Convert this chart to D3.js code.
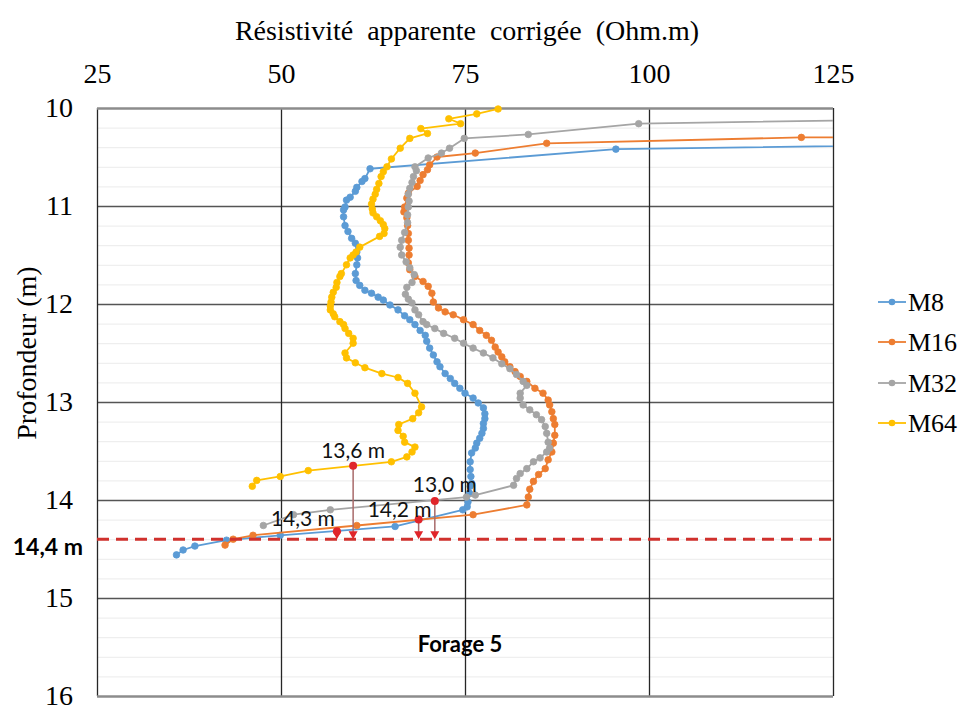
<!DOCTYPE html>
<html><head><meta charset="utf-8">
<script src="https://cdn.jsdelivr.net/npm/d3@7/dist/d3.min.js"></script>
<style>body{margin:0;background:#fff;} svg{display:block;}</style>
</head><body><svg id="chart" width="968" height="709"></svg>
<script>
// ---------- DATA ----------
const seriesNames = ["M8", "M16", "M32", "M64"];
const xTicks = [25, 50, 75, 100, 125];
const yTicks = [10, 11, 12, 13, 14, 15, 16];

const m8Res = [164, 95.5, 62.1, 61.4, 61.0, 60.3, 60.1, 59.4, 58.9, 58.7, 58.5, 58.5, 58.7, 59.1, 59.6, 60.1, 60.3, 60.4, 60.3, 60.1, 60.2, 60.7, 61.4, 62.3, 63.2, 63.9, 64.8, 65.9, 66.8, 67.5, 68.2, 68.9, 69.6, 69.8, 70.2, 70.7, 71.2, 71.6, 72.3, 73.0, 73.6, 74.3, 75.0, 76.1, 76.8, 77.5, 77.7, 77.7, 77.5, 77.5, 77.3, 77.0, 76.6, 76.4, 75.9, 75.7, 75.7, 75.8, 75.9, 75.7, 75.6, 75.4, 75.3, 74.7, 65.5, 49.9, 42.6, 38.3, 36.7, 35.8];
const m8Depth = [10.35, 10.42, 10.62, 10.72, 10.75, 10.81, 10.85, 10.91, 10.94, 11.01, 11.04, 11.11, 11.20, 11.26, 11.33, 11.38, 11.47, 11.53, 11.60, 11.69, 11.76, 11.81, 11.86, 11.89, 11.93, 11.96, 12.01, 12.06, 12.12, 12.16, 12.21, 12.27, 12.32, 12.38, 12.45, 12.52, 12.59, 12.64, 12.71, 12.76, 12.81, 12.86, 12.91, 12.96, 13.01, 13.06, 13.12, 13.17, 13.22, 13.27, 13.32, 13.37, 13.42, 13.47, 13.52, 13.61, 13.69, 13.76, 13.83, 13.86, 13.93, 14.02, 14.07, 14.10, 14.27, 14.36, 14.41, 14.47, 14.51, 14.56];

const m16Res = [180, 120.7, 86.1, 76.4, 71.2, 70.2, 69.9, 69.3, 68.9, 68.5, 67.3, 67.1, 66.8, 66.7, 67.1, 67.2, 67.3, 67.3, 67.4, 67.4, 67.3, 67.5, 68.2, 69.3, 70.0, 70.5, 70.7, 71.4, 72.3, 73.4, 74.8, 76.1, 77.0, 77.9, 78.6, 79.1, 79.5, 80.0, 80.4, 81.1, 81.8, 82.5, 83.4, 84.5, 85.6, 86.3, 86.5, 86.8, 87.0, 87.2, 87.2, 87.0, 86.8, 86.3, 85.9, 85.0, 84.3, 83.8, 83.6, 83.4, 76.1, 60.3, 46.2, 43.5, 42.4];
const m16Depth = [10.29, 10.30, 10.36, 10.46, 10.50, 10.58, 10.63, 10.68, 10.74, 10.80, 10.87, 10.92, 11.01, 11.06, 11.12, 11.20, 11.28, 11.35, 11.43, 11.50, 11.58, 11.65, 11.72, 11.77, 11.82, 11.89, 11.98, 12.04, 12.08, 12.11, 12.16, 12.21, 12.27, 12.32, 12.37, 12.44, 12.49, 12.54, 12.59, 12.64, 12.69, 12.74, 12.79, 12.86, 12.91, 12.98, 13.03, 13.10, 13.17, 13.23, 13.34, 13.42, 13.51, 13.59, 13.68, 13.74, 13.81, 13.89, 13.97, 14.05, 14.15, 14.26, 14.36, 14.40, 14.46];

const m32Res = [140, 98.6, 83.6, 74.9, 72.9, 71.8, 70.0, 68.2, 68.4, 68.0, 67.8, 67.5, 67.3, 67.4, 67.3, 67.2, 67.2, 66.8, 66.4, 66.2, 66.4, 67.0, 67.5, 68.1, 67.8, 67.1, 66.9, 67.3, 67.8, 68.2, 68.7, 69.3, 69.8, 70.9, 72.1, 73.6, 74.8, 76.1, 77.5, 78.8, 80.0, 81.1, 82.0, 82.9, 83.4, 82.5, 82.5, 82.9, 83.8, 84.7, 85.4, 85.9, 86.1, 86.3, 86.5, 86.1, 85.2, 84.3, 83.4, 82.5, 82.0, 81.6, 76.4, 75.2, 56.7, 51.7, 47.6];
const m32Depth = [10.11, 10.16, 10.27, 10.31, 10.41, 10.46, 10.51, 10.60, 10.64, 10.70, 10.76, 10.82, 10.88, 10.95, 11.01, 11.09, 11.17, 11.27, 11.35, 11.42, 11.50, 11.57, 11.63, 11.70, 11.78, 11.83, 11.90, 11.95, 11.99, 12.06, 12.11, 12.18, 12.21, 12.25, 12.30, 12.35, 12.40, 12.45, 12.50, 12.55, 12.61, 12.66, 12.72, 12.79, 12.83, 12.91, 12.96, 13.03, 13.08, 13.13, 13.18, 13.25, 13.32, 13.41, 13.47, 13.51, 13.57, 13.61, 13.68, 13.73, 13.78, 13.85, 13.95, 13.97, 14.10, 14.15, 14.26];

const m64Res = [79.5, 76.6, 72.8, 74.4, 69.0, 69.9, 67.5, 66.2, 65.0, 64.4, 63.9, 63.6, 63.3, 63.0, 62.8, 62.5, 62.3, 62.4, 62.5, 63.0, 63.5, 63.9, 64.1, 64.0, 63.4, 60.7, 60.2, 59.8, 59.4, 58.9, 58.2, 58.0, 57.6, 57.5, 57.1, 56.9, 56.8, 56.7, 56.7, 57.1, 57.3, 58.0, 58.5, 58.7, 59.2, 59.8, 59.8, 58.7, 58.9, 60.1, 61.4, 63.7, 65.9, 67.2, 68.2, 69.1, 68.7, 67.9, 66.0, 65.9, 66.6, 66.8, 68.2, 67.8, 67.1, 65.0, 53.7, 49.9, 46.7, 46.1];
const m64Depth = [10.01, 10.06, 10.11, 10.16, 10.21, 10.26, 10.31, 10.41, 10.52, 10.60, 10.65, 10.70, 10.77, 10.83, 10.88, 10.93, 10.98, 11.03, 11.07, 11.11, 11.15, 11.19, 11.23, 11.28, 11.31, 11.42, 11.47, 11.50, 11.53, 11.60, 11.69, 11.72, 11.78, 11.83, 11.88, 11.93, 11.98, 12.02, 12.06, 12.10, 12.13, 12.18, 12.21, 12.25, 12.30, 12.35, 12.40, 12.50, 12.55, 12.60, 12.65, 12.71, 12.75, 12.81, 12.91, 13.05, 13.11, 13.17, 13.23, 13.29, 13.35, 13.41, 13.46, 13.51, 13.56, 13.61, 13.70, 13.76, 13.80, 13.86];

// annotated transition points
const annotLabels = ["13,6 m", "13,0 m", "14,2 m", "14,3 m"];
const annotRes = [59.8, 70.9, 68.7, 57.6];
const annotDepth = [13.65, 14.01, 14.20, 14.32];
const limitDepth = 14.4;
const limitLabel = "14,4 m";
const boreLabel = "Forage 5";
const xTitle = "Résistivité apparente corrigée (Ohm.m)";
const yTitle = "Profondeur (m)";

// ---------- LAYOUT / STYLE ----------
const colors = ["#5b9bd5", "#ed7d31", "#a5a5a5", "#ffc000"];
const annotDx = [0, 10, -19, -34];
const annotDy = [-8, -9, -3, -5];
const W = 968, H = 709;
const P = {left: 97, right: 833, top: 108, bottom: 696};
const SERIF = '"Liberation Serif", "Times New Roman", serif';
const SANS = '"Lato", "Open Sans", "Liberation Sans", sans-serif';

const svg = d3.select("#chart");
svg.append("rect").attr("width", W).attr("height", H).attr("fill", "#fff");

const x = d3.scaleLinear().domain([25, 125]).range([P.left, P.right]);
const y = d3.scaleLinear().domain([10, 16]).range([P.top, P.bottom]);
const pw = P.right - P.left, ph = P.bottom - P.top;

// minor horizontal grid (every 0.2 m)
const minorTicks = d3.range(10, 16.001, 0.2).filter(v => Math.abs(v - Math.round(v)) > 0.01);
svg.append("g").attr("transform", `translate(${P.left},0)`)
  .call(d3.axisLeft(y).tickValues(minorTicks).tickSize(-pw).tickFormat(""))
  .call(g => g.select(".domain").remove())
  .call(g => g.selectAll("line").attr("stroke", "#ebebeb").attr("stroke-width", 1));

// major horizontal grid
svg.append("g").attr("transform", `translate(${P.left},0)`)
  .call(d3.axisLeft(y).tickValues(yTicks.slice(1, -1)).tickSize(-pw).tickFormat(""))
  .call(g => g.select(".domain").remove())
  .call(g => g.selectAll("line").attr("stroke", "#555").attr("stroke-width", 1.3));

// vertical grid
svg.append("g").attr("transform", `translate(0,${P.top})`)
  .call(d3.axisBottom(x).tickValues(xTicks).tickSize(ph).tickFormat(""))
  .call(g => g.select(".domain").remove())
  .call(g => g.selectAll("line").attr("stroke", "#262626").attr("stroke-width", 1.3));

// top & bottom frame lines
svg.append("g").attr("transform", `translate(${P.left},0)`)
  .call(d3.axisLeft(y).tickValues([10, 16]).tickSize(-pw).tickFormat(""))
  .call(g => g.select(".domain").remove())
  .call(g => g.selectAll("line").attr("stroke", "#8c8c8c").attr("stroke-width", 2.5));

// axis labels
svg.append("g").attr("transform", `translate(0,${P.top})`)
  .call(d3.axisTop(x).tickValues(xTicks).tickSize(0).tickPadding(25).tickFormat(d3.format("d")))
  .call(g => g.select(".domain").remove())
  .call(g => g.selectAll("text").style("font-family", SERIF).style("font-size", "28px").attr("fill", "#000"));

svg.append("g").attr("transform", `translate(${P.left},0)`)
  .call(d3.axisLeft(y).tickValues(yTicks).tickSize(0).tickPadding(24).tickFormat(d3.format("d")))
  .call(g => g.select(".domain").remove())
  .call(g => g.selectAll("text").style("font-family", SERIF).style("font-size", "28px").attr("fill", "#000").attr("dy", "0.3em"));

// titles
svg.append("text").attr("x", (P.left + P.right) / 2 + 2).attr("y", 40)
  .attr("text-anchor", "middle").style("font-family", SERIF).style("font-size", "28px")
  .style("word-spacing", "7px").text(xTitle);
svg.append("text").attr("transform", `translate(36,353) rotate(-90)`)
  .attr("text-anchor", "middle").style("font-family", SERIF).style("font-size", "28px")
  .text(yTitle);

// series
svg.append("clipPath").attr("id", "clipx").append("rect")
  .attr("x", P.left - 6).attr("y", 0).attr("width", pw + 6).attr("height", H);
const resArr = [m8Res, m16Res, m32Res, m64Res];
const depArr = [m8Depth, m16Depth, m32Depth, m64Depth];
const series = seriesNames.map((name, i) => ({
  name, color: colors[i],
  pts: d3.zip(resArr[i], depArr[i]).map(([r, d]) => ({r, d}))
}));
const line = d3.line().x(p => x(p.r)).y(p => y(p.d));
const sg = svg.append("g").attr("clip-path", "url(#clipx)");
series.forEach(s => {
  const g = sg.append("g");
  g.append("path").datum(s.pts).attr("d", line).attr("fill", "none")
    .attr("stroke", s.color).attr("stroke-width", 1.8).attr("stroke-linejoin", "round");
  g.selectAll("circle").data(s.pts.filter(p => p.r <= 125)).join("circle")
    .attr("cx", p => x(p.r)).attr("cy", p => y(p.d)).attr("r", 3.3)
    .attr("fill", s.color).attr("stroke", s.color).attr("stroke-width", 0.8);
});

// limit dashed line
svg.append("line").attr("x1", P.left).attr("x2", P.right)
  .attr("y1", y(limitDepth)).attr("y2", y(limitDepth))
  .attr("stroke", "#d0312d").attr("stroke-width", 3).attr("stroke-dasharray", "12,7");
svg.append("text").attr("x", 83).attr("y", y(limitDepth) + 16).attr("text-anchor", "end")
  .style("font-family", SANS).style("font-weight", "bold").style("font-size", "23px").text(limitLabel);

// annotations
const ag = svg.append("g");
annotLabels.forEach((lab, i) => {
  const px = x(annotRes[i]), py = y(annotDepth[i]), ty = y(limitDepth);
  ag.append("line").attr("x1", px).attr("x2", px).attr("y1", py).attr("y2", ty - 6)
    .attr("stroke", "#a86a6a").attr("stroke-width", 1.5);
  ag.append("path").attr("d", `M${px - 4.5},${ty - 8} L${px + 4.5},${ty - 8} L${px},${ty} Z`)
    .attr("fill", "#e0252a");
  ag.append("circle").attr("cx", px).attr("cy", py).attr("r", 4).attr("fill", "#e0252a");
  ag.append("text").attr("x", px + annotDx[i]).attr("y", py + annotDy[i])
    .attr("text-anchor", "middle").style("font-family", SANS).style("font-size", "21px")
    .attr("fill", "#111").text(lab);
});

svg.append("text").attr("x", x(75) - 5).attr("y", y(15.55))
  .attr("text-anchor", "middle").style("font-family", SANS).style("font-weight", "bold")
  .style("font-size", "22px").text(boreLabel);

// legend
const legY = [302, 342, 383, 423];
const lg = svg.append("g");
series.forEach((s, i) => {
  const g = lg.append("g").attr("transform", `translate(0,${legY[i]})`);
  g.append("line").attr("x1", 878).attr("x2", 906).attr("stroke", s.color).attr("stroke-width", 1.8);
  g.append("circle").attr("cx", 892).attr("r", 3.3).attr("fill", s.color);
  g.append("text").attr("x", 908).attr("y", 9).style("font-family", SERIF)
    .style("font-size", "26px").text(s.name);
});
</script>
</body></html>
